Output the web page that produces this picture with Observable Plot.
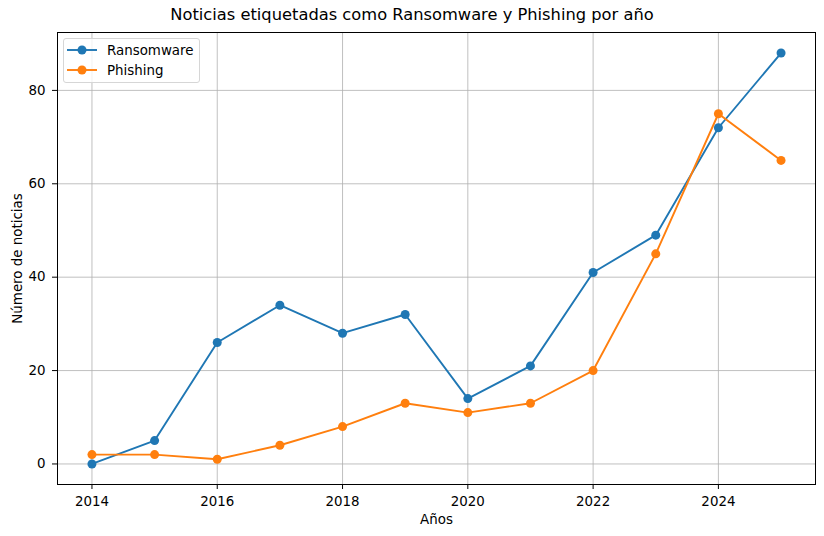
<!DOCTYPE html>
<html>
<head>
<meta charset="utf-8">
<script src="https://cdn.jsdelivr.net/npm/d3@7"></script>
<script src="https://cdn.jsdelivr.net/npm/@observablehq/plot@0.6"></script>
<style>
  html, body { margin: 0; padding: 0; background: #fff; }
  #wrap { position: relative; width: 824px; height: 536px; font-family: "DejaVu Sans", sans-serif; }
  #title { height: 30px; line-height: 30px; text-align: center; font-size: 16.3px; color: #000; }
  #legend { position: absolute; left: 63px; top: 38px; width: 137px; height: 45px; box-sizing: border-box;
            border: 1px solid #d6d6d6; border-radius: 3px; background: rgba(255,255,255,0.8); font-size: 13.4px; }
  .entry { position: absolute; left: 3px; height: 18px; display: flex; align-items: center; }
  .entry span { margin-left: 10px; color: #000; }
</style>
</head>
<body>
<div id="wrap">
  <div id="title">Noticias etiquetadas como Ransomware y Phishing por año</div>
  <div id="chart"></div>
  <div id="legend"></div>
</div>
<script>
const years = [2014, 2015, 2016, 2017, 2018, 2019, 2020, 2021, 2022, 2023, 2024, 2025];
const ransomware = [0, 5, 26, 34, 28, 32, 14, 21, 41, 49, 72, 88];
const phishing = [2, 2, 1, 4, 8, 13, 11, 13, 20, 45, 75, 65];
const seriesNames = ["Ransomware", "Phishing"];
const seriesColors = ["#1f77b4", "#ff7f0e"];
const xTicks = [2014, 2016, 2018, 2020, 2022, 2024];
const yTicks = [0, 20, 40, 60, 80];

const data = [
  ...years.map((yr, i) => ({year: yr, value: ransomware[i], series: seriesNames[0]})),
  ...years.map((yr, i) => ({year: yr, value: phishing[i], series: seriesNames[1]}))
];

const xPad = (d3.max(years) - d3.min(years)) * 0.05;
const allVals = ransomware.concat(phishing);
const yPad = (d3.max(allVals) - d3.min(allVals)) * 0.05;

const chart = Plot.plot({
  width: 824,
  height: 506,
  marginLeft: 57,
  marginRight: 9,
  marginTop: 2,
  marginBottom: 52,
  style: {fontFamily: "DejaVu Sans, sans-serif", fontSize: "13.4px", color: "#000", background: "#fff"},
  x: {domain: [d3.min(years) - xPad, d3.max(years) + xPad]},
  y: {domain: [d3.min(allVals) - yPad, d3.max(allVals) + yPad]},
  color: {domain: seriesNames, range: seriesColors},
  marks: [
    Plot.gridX(xTicks, {stroke: "#b0b0b0", strokeOpacity: 1, strokeWidth: 0.8}),
    Plot.gridY(yTicks, {stroke: "#b0b0b0", strokeOpacity: 1, strokeWidth: 0.8}),
    Plot.axisX(xTicks, {tickFormat: d => String(d), tickSize: 5, tickPadding: 7, stroke: "#000", fill: "#000",
      label: "Años", labelAnchor: "center", labelOffset: 39, labelArrow: "none", fontSize: 13.4}),
    Plot.axisY(yTicks, {tickSize: 5, tickPadding: 7, stroke: "#000", fill: "#000",
      label: "Número de noticias", labelAnchor: "center", labelOffset: 45, labelArrow: "none", fontSize: 13.4}),
    Plot.line(data, {x: "year", y: "value", z: "series", stroke: "series", strokeWidth: 1.9}),
    Plot.dot(data, {x: "year", y: "value", fill: "series", r: 4.5}),
    Plot.frame({stroke: "#000", strokeWidth: 1})
  ]
});
document.getElementById("chart").appendChild(chart);

const legend = document.getElementById("legend");
seriesNames.forEach((name, i) => {
  const e = document.createElement("div");
  e.className = "entry";
  e.style.top = (2 + i * 20) + "px";
  e.innerHTML = `<svg width="30" height="12"><line x1="0" y1="6" x2="30" y2="6" stroke="${seriesColors[i]}" stroke-width="1.9"/><circle cx="15" cy="6" r="4.5" fill="${seriesColors[i]}"/></svg><span>${name}</span>`;
  legend.appendChild(e);
});
</script>
</body>
</html>
